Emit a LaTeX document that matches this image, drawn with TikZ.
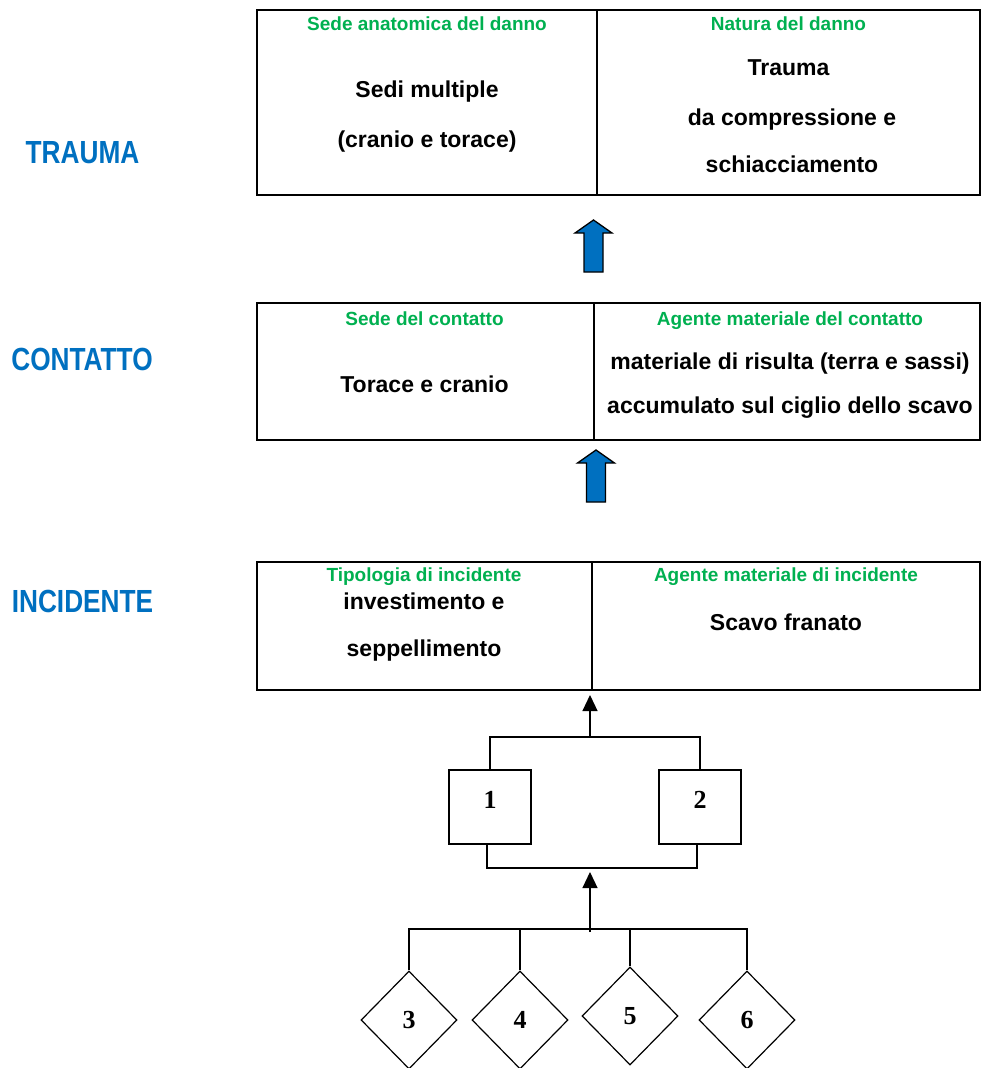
\documentclass[tikz,border=0pt]{standalone}
\usepackage{fontspec}
\setmainfont{Liberation Sans}
\newfontfamily\serifnum{Liberation Serif}
\newfontfamily\condfont[FakeStretch=0.82]{Liberation Sans}
\usetikzlibrary{arrows.meta,shapes.geometric}
\definecolor{hdrgreen}{HTML}{00B050}
\definecolor{lblblue}{HTML}{0070C0}
\definecolor{arrowblue}{HTML}{0070C0}
\begin{document}
\begin{tikzpicture}[x=1pt,y=-1pt,
  cell/.style={draw=black,line width=1.6pt,inner sep=0pt,rectangle},
  hdr/.style={anchor=base,inner sep=0pt,text=hdrgreen,font=\bfseries\fontsize{19}{22}\selectfont},
  body/.style={anchor=base,inner sep=0pt,font=\bfseries\fontsize{23}{27}\selectfont},
  level/.style={anchor=base,inner sep=0pt,text=lblblue,font=\condfont\bfseries\fontsize{32}{36}\selectfont},
  numbox/.style={draw=black,line width=1.2pt,rectangle,minimum width=82pt,minimum height=74pt,inner sep=0pt},
  numtxt/.style={inner sep=0pt,font=\serifnum\bfseries\fontsize{26}{30}\selectfont},
  dia/.style={draw=black,line width=1.2pt,diamond,minimum width=96pt,minimum height=98pt,inner sep=0pt,font=\serifnum\bfseries\fontsize{26}{30}\selectfont},
  link/.style={draw=black,line width=1.2pt},
  uparrow/.style={link,-{Triangle[width=15pt,length=16pt]}},
  blockup/.pic={\filldraw[fill=arrowblue,draw=black,line width=1.3pt,line join=miter]
     (0,0) -- (-18.5,13) -- (-9.5,13) -- (-9.5,52) -- (9.5,52) -- (9.5,13) -- (18.5,13) -- cycle;}
]
\useasboundingbox (0,0) rectangle (981,1068);

% level labels
\node[level] (lvT) at (82.5,163) {TRAUMA};
\node[level] (lvC) at (82,370) {CONTATTO};
\node[level] (lvI) at (82.5,612) {INCIDENTE};

% TRAUMA boxes
\node[cell,minimum width=340pt,minimum height=185pt] (tA) at (427,102.5) {};
\node[cell,minimum width=383pt,minimum height=185pt] (tB) at (788.5,102.5) {};
\node[hdr] (tAh) at (427,30) {Sede anatomica del danno};
\node[hdr] (tBh) at (788.5,30) {Natura del danno};
\node[body] (tA1) at (427,97) {Sedi multiple};
\node[body] (tA2) at (427,147) {(cranio e torace)};
\node[body] (tB1) at (788.5,75) {Trauma};
\node[body] (tB2) at (792,125) {da compressione e};
\node[body] (tB3) at (792,172) {schiacciamento};

\pic at (593.5,220) {blockup};

% CONTATTO boxes
\node[cell,minimum width=337pt,minimum height=137pt] (mA) at (425.5,371.5) {};
\node[cell,minimum width=386pt,minimum height=137pt] (mB) at (787,371.5) {};
\node[hdr] (mAh) at (424.5,325) {Sede del contatto};
\node[hdr] (mBh) at (790,325) {Agente materiale del contatto};
\node[body] (mA1) at (424.5,392) {Torace e cranio};
\node[body] (mB1) at (790,369) {materiale di risulta (terra e sassi)};
\node[body] (mB2) at (790,413) {accumulato sul ciglio dello scavo};

\pic at (596,450) {blockup};

% INCIDENTE boxes
\node[cell,minimum width=335pt,minimum height=128pt] (bA) at (424.5,626) {};
\node[cell,minimum width=388pt,minimum height=128pt] (bB) at (786,626) {};
\node[hdr] (bAh) at (424,581) {Tipologia di incidente};
\node[hdr] (bBh) at (786,581) {Agente materiale di incidente};
\node[body] (bA1) at (424,609) {investimento e};
\node[body] (bA2) at (424,656) {seppellimento};
\node[body] (bB1) at (786,630) {Scavo franato};

% boxes 1 and 2
\node[numbox] (b1) at (490,807) {};
\node[numbox] (b2) at (700,807) {};
\node[numtxt] (n1) at (490,800) {1};
\node[numtxt] (n2) at (700,800) {2};

\coordinate (j1) at (590,737);
\coordinate (tip1) at (590,695);
\draw[link] (b1.north) |- (j1) -| (b2.north);
\draw[uparrow] (j1) -- (tip1);

\coordinate (j2) at (590,868);
\coordinate (tip2) at (590,872);
\draw[link] ([xshift=-3pt]b1.south) |- (j2) -| ([xshift=-3pt]b2.south);

% diamonds
\node[dia] (d3) at (409,1020) {3};
\node[dia] (d4) at (520,1020) {4};
\node[dia] (d5) at (630,1016) {5};
\node[dia] (d6) at (747,1020) {6};

\coordinate (j3) at (590,929);
\coordinate (j3b) at (590,932);
\draw[uparrow] (j3b) -- (tip2);
\draw[link] (d3.north) -- (d3.north |- j3) -- (d6.north |- j3) -- (d6.north);
\draw[link] (d4.north) -- (d4.north |- j3);
\draw[link] (d5.north) -- (d5.north |- j3);
\end{tikzpicture}
\end{document}
